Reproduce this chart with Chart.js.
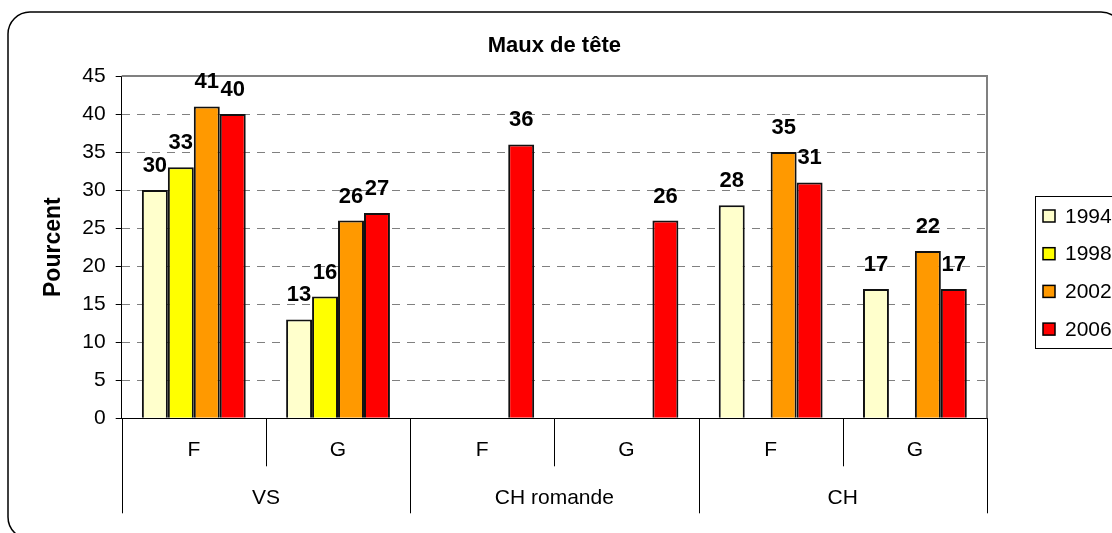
<!DOCTYPE html>
<html>
<head>
  <title>Maux de tête</title>
  <script src="https://cdn.jsdelivr.net/npm/chart.js"></script>
  <style>
    body { background: #fff; margin: 0; padding: 0; }
    canvas { display: block; }
  </style>
</head>
<body>
  <canvas id="chart" width="1112" height="533"></canvas>
  <script>
    const categories = ['F', 'G', 'F', 'G', 'F', 'G'];
    const regions = ['VS', 'CH romande', 'CH'];
    const years = ['1994', '1998', '2002', '2006'];
    const v1994 = [30, 13, null, null, 28, 17];
    const v1998 = [33, 16, null, null, null, null];
    const v2002 = [41, 26, null, null, 35, 22];
    const v2006 = [40, 27, 36, 26, 31, 17];
    const colors = ['#FFFFCC', '#FFFF00', '#FF9900', '#FF0000'];

    const FONT = 'Arial, "Liberation Sans", sans-serif';
    const series = [v1994, v1998, v2002, v2006];

    // rounded frame around the whole chart
    const framePlugin = {
      id: 'frame',
      beforeDraw(chart) {
        const ctx = chart.ctx;
        ctx.save();
        ctx.strokeStyle = '#000';
        ctx.lineWidth = 1.5;
        ctx.beginPath();
        ctx.roundRect(8, 12, 1115, 527, 22);
        ctx.stroke();
        ctx.restore();
      }
    };

    // grey top/right border of the plot area
    const plotBorder = {
      id: 'plotBorder',
      beforeDatasetsDraw(chart) {
        const {ctx, chartArea: a} = chart;
        ctx.save();
        ctx.strokeStyle = '#808080';
        ctx.lineWidth = 2;
        ctx.beginPath();
        ctx.moveTo(a.left, a.top);
        ctx.lineTo(a.right, a.top);
        ctx.lineTo(a.right, a.bottom);
        ctx.stroke();
        ctx.restore();
      }
    };

    // numbers above the bars
    const valueLabels = {
      id: 'valueLabels',
      afterDatasetsDraw(chart) {
        const ctx = chart.ctx;
        ctx.save();
        ctx.font = 'bold 22px ' + FONT;
        ctx.fillStyle = '#000';
        ctx.textAlign = 'center';
        ctx.textBaseline = 'alphabetic';
        chart.data.datasets.forEach((ds, i) => {
          chart.getDatasetMeta(i).data.forEach((bar, j) => {
            if (ds.data[j] == null) return;
            ctx.fillText(String(ds.data[j]), bar.x, bar.y - 18);
          });
        });
        ctx.restore();
      }
    };

    // category dividers below the x axis (short for F/G, long for regions)
    const dividers = {
      id: 'dividers',
      afterDraw(chart) {
        const x = chart.scales.x;
        const step = x.getPixelForValue(1) - x.getPixelForValue(0);
        const ctx = chart.ctx;
        ctx.save();
        ctx.strokeStyle = '#000';
        ctx.lineWidth = 1;
        for (let i = 0; i <= categories.length; i++) {
          const px = Math.round(x.getPixelForValue(0) - step / 2 + i * step) + 0.5;
          ctx.beginPath();
          ctx.moveTo(px, x.top);
          ctx.lineTo(px, x.top + (i % 2 === 0 ? 95 : 48));
          ctx.stroke();
        }
        ctx.restore();
      }
    };

    // boxed legend on the right, partly cut by the edge
    const boxLegend = {
      id: 'boxLegend',
      afterDraw(chart) {
        const ctx = chart.ctx;
        ctx.save();
        ctx.strokeStyle = '#000';
        ctx.lineWidth = 1;
        ctx.strokeRect(1035.5, 196.5, 120, 152);
        ctx.font = '21px ' + FONT;
        ctx.textBaseline = 'middle';
        ctx.textAlign = 'left';
        years.forEach((y, i) => {
          const cy = 216 + i * 37.7;
          ctx.fillStyle = colors[i];
          ctx.fillRect(1043, cy - 6, 12, 12);
          ctx.lineWidth = 1.5;
          ctx.strokeRect(1043, cy - 6, 12, 12);
          ctx.fillStyle = '#000';
          ctx.fillText(y, 1065, cy + 1);
        });
        ctx.restore();
      }
    };

    new Chart(document.getElementById('chart'), {
      type: 'bar',
      data: {
        labels: categories,
        datasets: years.map((y, i) => ({
          label: y,
          data: series[i],
          backgroundColor: colors[i],
          borderColor: '#111',
          borderWidth: 2,
          categoryPercentage: 0.72,
          barPercentage: 1
        }))
      },
      options: {
        responsive: false,
        animation: false,
        layout: { padding: { top: 0, left: 0, right: 125, bottom: 0 } },
        plugins: {
          legend: { display: false },
          tooltip: { enabled: false },
          title: {
            display: true,
            fullSize: false,
            text: 'Maux de tête',
            color: '#000',
            font: { family: FONT, size: 22, weight: 'bold' },
            padding: { top: 33, bottom: 16.6 }
          }
        },
        scales: {
          x: {
            offset: true,
            grid: { display: false },
            border: { color: '#000', width: 1 },
            ticks: { color: '#000', font: { family: FONT, size: 21 }, padding: 11 },
            afterFit(s) { s.height = 60; }
          },
          x2: {
            type: 'category',
            position: 'bottom',
            weight: 1,
            labels: regions,
            offset: true,
            grid: { display: false },
            border: { display: false },
            ticks: { color: '#000', font: { family: FONT, size: 21 }, padding: -1 },
            afterFit(s) { s.height = 54.7; }
          },
          y: {
            min: 0,
            max: 45,
            ticks: { stepSize: 5, color: '#000', font: { family: FONT, size: 21 }, padding: 10 },
            grid: { color: '#808080', tickColor: '#000', tickLength: 6, tickBorderDash: [] },
            border: { color: '#000', width: 1, dash: [8, 7] },
            title: {
              display: true,
              text: 'Pourcent',
              color: '#000',
              font: { family: FONT, size: 23, weight: 'bold' },
              padding: { top: 39.5, bottom: 0 }
            },
            afterFit(s) { s.width = 121.7; }
          }
        }
      },
      plugins: [framePlugin, plotBorder, valueLabels, dividers, boxLegend]
    });
  </script>
</body>
</html>
